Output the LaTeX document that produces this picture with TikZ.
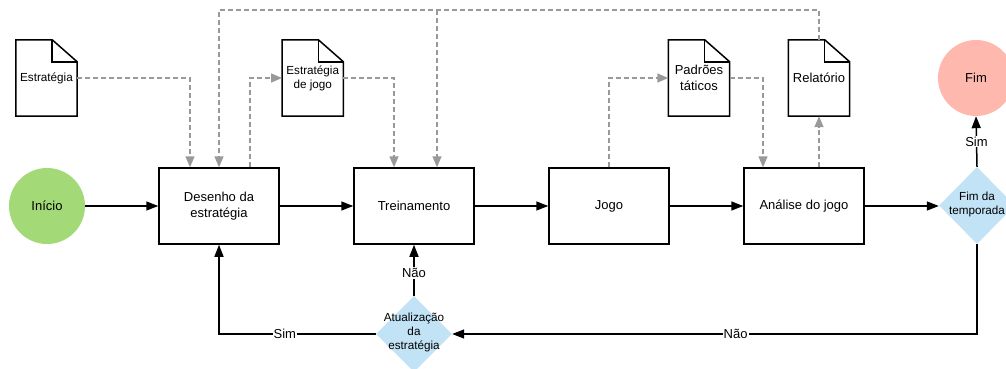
\documentclass[tikz,border=0pt]{standalone}
\usepackage{fontspec}
\setmainfont{Liberation Sans}
\usetikzlibrary{arrows.meta,shapes.geometric}
\definecolor{grayc}{HTML}{999999}
\definecolor{greenc}{HTML}{A3D977}
\definecolor{pinkc}{HTML}{FFB8AE}
\definecolor{bluec}{HTML}{C2E3F5}
\begin{document}
\begin{tikzpicture}[x=1pt,y=-1pt,
  every node/.style={font=\fontsize{13}{15.5}\selectfont},
  box/.style={draw=black, line width=1.5pt, minimum width=120pt, minimum height=76pt, inner sep=0pt, align=center},
  docnode/.style={minimum width=61pt, minimum height=76pt, inner sep=0pt, align=center},
  smalltxt/.style={font=\fontsize{11.7}{14}\selectfont},
  docline/.style={draw=black, line width=1.5pt, line join=miter},
  term/.style={circle, minimum size=76pt, inner sep=0pt},
  decision/.style={diamond, fill=bluec, inner sep=0pt, minimum width=76pt},
  arr/.style={draw=black, line width=1.5pt, -{Triangle[length=12pt,width=9pt]}},
  plain/.style={draw=black, line width=1.5pt},
  darr/.style={draw=grayc, line width=1.5pt, dash pattern=on 5pt off 3pt, -{Triangle[length=11pt,width=9pt]}},
  dline/.style={draw=grayc, line width=1.5pt, dash pattern=on 5pt off 3pt},
  lbl/.style={fill=white, inner sep=1pt},
]
\useasboundingbox (0,0) rectangle (1006,369);

% main flow
\node[term, fill=greenc] (ini) at (47,206) {Início};
\node[box] (des) at (219,206) {Desenho da\\estratégia};
\node[box] (tre) at (414,206) {Treinamento};
\node[box] (jog) at (609,206) {Jogo};
\node[box] (ana) at (804,206) {Análise do jogo};
\node[decision, minimum height=77pt] (ft) at (977,205.5) {};
\node[smalltxt, align=center] (ftt) at (977,204.5) {Fim da\\temporada};
\node[term, fill=pinkc] (fim) at (976,78) {Fim};
\node[decision, minimum height=76pt] (au) at (414,334) {};
\node[smalltxt, align=center] (aut) at (414,332) {Atualização\\da\\estratégia};

% documents
\node[docnode, smalltxt] (d1) at (46.5,78) {Estratégia};
\node[docnode, smalltxt] (d2) at (312.7,78) {Estratégia\\de jogo};
\node[docnode] (d3) at (699,78) {Padrões\\táticos};
\node[docnode] (d4) at (819,78) {Relatório};
\foreach \d in {d1,d2,d3,d4}{
  \draw[docline] (\d.south west) -- (\d.north west) -- ([xshift=-25pt]\d.north east)
     -- ([yshift=-22pt]\d.north east) -- (\d.south east) -- cycle;
  \draw[docline] ([xshift=-25pt]\d.north east) -- ([xshift=-25pt,yshift=-22pt]\d.north east)
     -- ([yshift=-22pt]\d.north east);
}

% solid connectors
\draw[arr] (ini) -- (des);
\draw[arr] (des) -- (tre);
\draw[arr] (tre) -- (jog);
\draw[arr] (jog) -- (ana);
\draw[arr] (ana.east) -- (ana.east -| ft.west);
\draw[arr] (ft.north) -- node[lbl]{Sim} (fim.south);
\draw[arr] (ft.south) |- node[lbl, pos=0.73]{Não} (au.east);
\draw[arr] (au.north) -- node[lbl, pos=0.45]{Não} (tre.south);
\draw[arr] (au.west) -| node[lbl, pos=0.29]{Sim} (des.south);

% dashed connectors
\coordinate (top) at (0,10);
\draw[darr] (d1.east) -| ([xshift=-29pt]des.north);
\draw[darr] (d4.north) -- (d4.north |- top) -- (des.north |- top) -- (des.north);
\draw[darr] ([xshift=23pt]tre.north |- top) -- ([xshift=23pt]tre.north);
\draw[darr] ([xshift=31pt]des.north) |- (d2.west);
\draw[darr] (d2.east) -| ([xshift=-20pt]tre.north);
\draw[darr] (jog.north) |- (d3.west);
\draw[darr] (d3.east) -| ([xshift=-41pt]ana.north);
\draw[darr] (ana.north -| d4.south) -- (d4.south);
\end{tikzpicture}
\end{document}
